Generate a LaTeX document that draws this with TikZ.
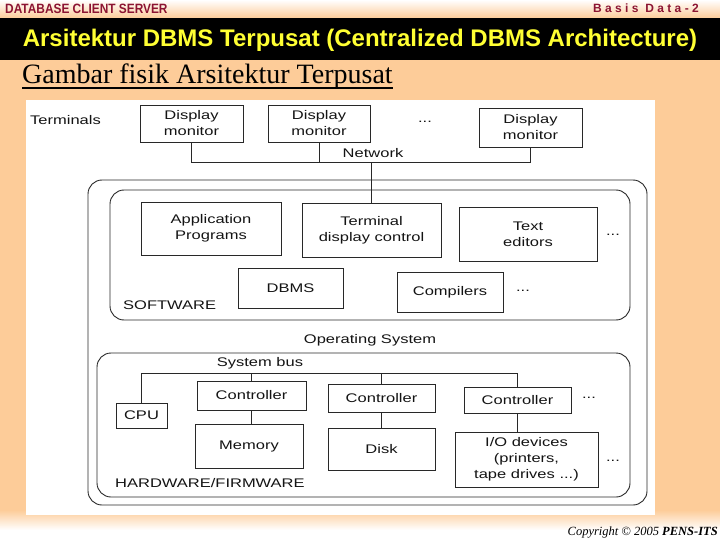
\documentclass[tikz,border=0pt]{standalone}
\usepackage{fontspec}
\setmainfont{Liberation Sans}
\newfontfamily\dfont[FakeStretch=1.32]{Liberation Sans}
\newfontfamily\serifA{Liberation Serif}
\newfontfamily\lsfont[LetterSpace=28]{Liberation Sans}
\newfontfamily\hdfont[FakeStretch=0.88]{Liberation Sans}
\usetikzlibrary{shadings}
\definecolor{peach}{RGB}{253,204,153}
\definecolor{hdred}{RGB}{140,20,50}
\definecolor{titley}{RGB}{255,255,51}
\definecolor{ink}{RGB}{40,40,40}
\definecolor{txt}{RGB}{20,20,20}
\begin{document}
\begin{tikzpicture}[x=1pt,y=-1pt,
  box/.style={draw=ink,line width=0.8pt,fill=white,inner sep=0pt,align=center,text=txt,font=\dfont\fontsize{12.5}{16}\selectfont},
  lbl/.style={inner sep=0pt,align=center,text=txt,font=\dfont\fontsize{12.5}{16}\selectfont},
  wire/.style={draw=ink,line width=0.8pt},
  grp/.style={draw=ink,line width=0.9pt,rounded corners=14pt}]
\useasboundingbox (0,0) rectangle (720,540);
% background
\fill[peach] (0,0) rectangle (720,540);
\shade[top color=white,bottom color=peach] (0,0) rectangle (720,18);
\fill[black] (0,18) rectangle (720,60);
\shade[top color=peach,bottom color=white] (0,510) rectangle (720,530);
\fill[white] (0,530) rectangle (720,540);
\fill[white] (26,100) rectangle (655,515);
% header
\node[anchor=west,inner sep=0pt,text=hdred,font=\hdfont\bfseries\fontsize{13.5}{15}\selectfont] (hdl) at (5,8.5) {DATABASE CLIENT SERVER};
\node[anchor=east,inner sep=0pt,text=hdred,font=\lsfont\bfseries\fontsize{12}{14}\selectfont] (hdr) at (699,8.5) {Basis Data-2};
\node[inner sep=0pt,text=titley,font=\bfseries\fontsize{24}{28}\selectfont] (title) at (360,40) {Arsitektur DBMS Terpusat (Centralized DBMS Architecture)};
\node[anchor=base west,inner sep=0pt,font=\serifA\fontsize{28}{32}\selectfont] (sub) at (22,84) {Gambar fisik Arsitektur Terpusat};
\draw[line width=1.4pt] ([yshift=-4pt]sub.base west) -- ([yshift=-4pt]sub.base east);
\node[anchor=base east,inner sep=0pt,font=\serifA\itshape\fontsize{12.5}{14}\selectfont] (copy) at (718,535) {Copyright © 2005 \textbf{PENS-ITS}};
% group frames
\draw[grp] (88,180) rectangle (647,505);
\draw[grp] (110,190) rectangle (630,320);
\draw[grp] (97,353) rectangle (630,497);
% terminals
\node[lbl,anchor=west] (term) at (30,120) {Terminals};
\node[box,minimum width=103pt,minimum height=37pt] (dm1) at (191.5,123.5) {Display\\monitor};
\node[box,minimum width=102pt,minimum height=37pt] (dm2) at (319,123.5) {Display\\monitor};
\node[lbl] (dt) at (425,122) {...};
\node[box,minimum width=103pt,minimum height=39pt] (dm3) at (530.5,127.5) {Display\\monitor};
\coordinate (netL) at (191.5,162);
\coordinate (netR) at (530.5,162);
\draw[wire] (dm1.south) -- (netL) -- (netR) -- (dm3.south);
\draw[wire] (dm2.south) -- (dm2.south |- netL);
\node[lbl] (net) at (373,153) {Network};
% software
\node[box,minimum width=140pt,minimum height=53pt] (app) at (211,228.5) {Application\\Programs};
\node[box,minimum width=139pt,minimum height=54pt] (tdc) at (371.5,230) {Terminal\\display control};
\node[box,minimum width=138pt,minimum height=54pt] (te) at (528,234) {Text\\editors};
\node[lbl] (dt2) at (613,235) {...};
\node[box,minimum width=105pt,minimum height=40pt] (dbms) at (290.5,288) {DBMS};
\node[box,minimum width=106pt,minimum height=40pt] (comp) at (450,292) {Compilers};
\node[lbl] (dt3) at (523,291) {...};
\node[lbl,anchor=west] (sw) at (123,305) {SOFTWARE};
\draw[wire] (tdc.north) -- (tdc.north |- netL);
\node[lbl] (os) at (370,340) {Operating System};
% hardware
\node[lbl] (sb) at (260,363) {System bus};
\node[box,minimum width=51pt,minimum height=25pt] (cpu) at (141.5,415.5) {CPU};
\node[box,minimum width=109pt,minimum height=29pt] (c1) at (251.5,395.5) {Controller};
\node[box,minimum width=108pt,minimum height=44pt] (mem) at (249,446) {Memory};
\node[box,minimum width=107pt,minimum height=28pt] (c2) at (381.5,398) {Controller};
\node[box,minimum width=107pt,minimum height=42pt] (disk) at (381.5,449) {Disk};
\node[box,minimum width=107pt,minimum height=26pt] (c3) at (517.5,400) {Controller};
\node[box,minimum width=143pt,minimum height=55pt] (io) at (526.5,459.5) {I/O devices\\(printers,\\tape drives ...)};
\node[lbl] (dt4) at (589,398) {...};
\node[lbl] (dt5) at (613,461) {...};
\node[lbl,anchor=west] (hw) at (115,483) {HARDWARE/FIRMWARE};
\coordinate (busL) at (141.5,373);
\coordinate (busR) at (517.5,373);
\draw[wire] (cpu.north) -- (busL) -- (busR) -- (c3.north);
\draw[wire] (c1.north) -- (c1.north |- busL);
\draw[wire] (c2.north) -- (c2.north |- busL);
\draw[wire] (c1.south) -- (mem.north -| c1.south);
\draw[wire] (c2.south) -- (disk.north);
\draw[wire] (c3.south) -- (io.north -| c3.south);
\end{tikzpicture}
\end{document}
